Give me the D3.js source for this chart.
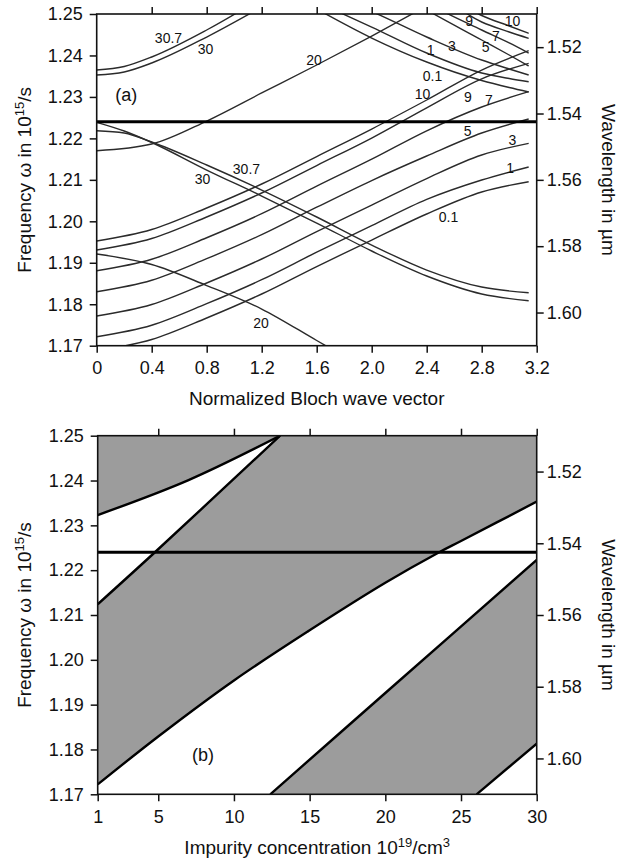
<!DOCTYPE html>
<html>
<head>
<meta charset="utf-8">
<script src="https://cdn.jsdelivr.net/npm/d3@7"></script>
<style>
  body { margin: 0; background: #fff; }
  svg text { font-family: "Liberation Sans", Arial, Helvetica, sans-serif; fill: #111; }
</style>
</head>
<body>
<svg id="chart" width="630" height="858"></svg>
<script>
// ---------- Panel (a): band structure, frequency vs normalized Bloch wave vector ----------
const kTicks = [0, 0.4, 0.8, 1.2, 1.6, 2.0, 2.4, 2.8, 3.2];
const kTickLabels = ["0", "0.4", "0.8", "1.2", "1.6", "2.0", "2.4", "2.8", "3.2"];
const freqTicks = [1.17, 1.18, 1.19, 1.20, 1.21, 1.22, 1.23, 1.24, 1.25];
const waveTicks = [1.52, 1.54, 1.56, 1.58, 1.60];
const targetFreq = 1.224;   // operating frequency (1.54 µm)

// lower bands (rising with k), one per impurity concentration
const kBand = [0, 0.4, 0.8, 1.2, 1.6, 2.0, 2.4, 2.8, 3.1416];
const rise01 = [1.16872, 1.17149, 1.17668, 1.18247, 1.18910, 1.19549, 1.20176, 1.20707, 1.20955];
const rise1  = [1.17217, 1.17494, 1.18013, 1.18591, 1.19255, 1.19894, 1.20528, 1.20996, 1.21310];
const rise3  = [1.17716, 1.17993, 1.18512, 1.19091, 1.19754, 1.20393, 1.21032, 1.21599, 1.21881];
const rise5  = [1.18302, 1.18579, 1.19098, 1.19677, 1.20340, 1.20984, 1.21575, 1.22130, 1.22467];
const rise7  = [1.18809, 1.19086, 1.19604, 1.20183, 1.20847, 1.21498, 1.22183, 1.22757, 1.23126];
const rise9  = [1.19308, 1.19585, 1.20104, 1.20683, 1.21346, 1.22009, 1.22738, 1.23437, 1.23811];
const rise10 = [1.19525, 1.19802, 1.20321, 1.20900, 1.21563, 1.22226, 1.22926, 1.23649, 1.24115];

// upper bands (falling towards the zone edge)
const kFallA = [1.6, 2.0, 2.4, 2.8, 3.0, 3.1416];
const fall01 = [1.25121, 1.24421, 1.23842, 1.23396, 1.23227, 1.23119];
const fall1  = [1.25289, 1.24686, 1.24059, 1.23577, 1.23444, 1.23367];
const fall3  = [1.25579, 1.25060, 1.24445, 1.23890, 1.23673, 1.23529];
const kFallB = [2.0, 2.4, 2.8, 3.0, 3.1416];
const fall5  = [1.25868, 1.25096, 1.24373, 1.24011, 1.23746];
const fall7  = [1.26061, 1.25265, 1.24614, 1.24301, 1.24059];
const fall9  = [1.26500, 1.25675, 1.24807, 1.24566, 1.24414];
const fall10 = [1.26600, 1.25800, 1.24964, 1.24711, 1.24534];

// bands for the high concentrations
const k20Hi = [0, 0.4, 0.8, 1.2, 1.6, 2.0, 2.4];
const rise20 = [1.21703, 1.21864, 1.22419, 1.23095, 1.23770, 1.24469, 1.25193];
const k20Lo = [0, 0.4, 0.8, 1.2, 1.6, 2.0];
const fall20 = [1.19211, 1.18958, 1.18451, 1.17885, 1.17125, 1.16365];
const k30Hi = [0, 0.2, 0.4, 0.8, 1.2];
const rise30  = [1.23529, 1.23601, 1.23818, 1.24445, 1.25169];
const rise307 = [1.23649, 1.23734, 1.23963, 1.24614, 1.25386];
const k30Lo = [0, 0.2, 0.4, 0.8, 1.2, 1.6, 2.0, 2.4, 2.8, 3.1416];
const fall30  = [1.22388, 1.22178, 1.21901, 1.21237, 1.20610, 1.19959, 1.19284, 1.18681, 1.18247, 1.18085];
const fall307 = [1.22185, 1.22130, 1.21913, 1.21358, 1.20755, 1.20104, 1.19428, 1.18825, 1.18415, 1.18278];

// concentration labels attached to the bands (k, frequency)
const bandLabels = [
  ["30.7", 0.522, 1.24433], ["30", 0.791, 1.24156], ["20", 1.580, 1.23890],
  ["30", 0.769, 1.21032], ["30.7", 1.089, 1.21261], ["20", 1.195, 1.17559],
  ["0.1", 2.559, 1.20104], ["1", 3.006, 1.21298], ["3", 3.024, 1.21961],
  ["5", 2.697, 1.22178], ["7", 2.853, 1.22938], ["9", 2.700, 1.22998], ["10", 2.369, 1.23070],
  ["0.1", 2.442, 1.23505], ["1", 2.428, 1.24132], ["3", 2.584, 1.24228],
  ["5", 2.828, 1.24211], ["7", 2.904, 1.24469], ["9", 2.708, 1.24831], ["10", 3.024, 1.24831]
];

// ---------- Panel (b): band gaps vs impurity concentration ----------
const concTicks = [1, 5, 10, 15, 20, 25, 30];
const edge1 = { c: [1, 7, 13.05], w: [1.2323, 1.2401, 1.2500] };
const edge2 = { c: [1, 4.78, 13.05], w: [1.2124, 1.2240, 1.2500] };
const edge3 = { c: [1, 5, 10, 15, 20, 23.5, 25, 30],
                w: [1.1722, 1.1829, 1.1954, 1.2066, 1.2172, 1.2239, 1.2265, 1.2353] };
const edge4 = { c: [12.4, 20, 30], w: [1.1700, 1.1926, 1.2223] };
const edge5 = { c: [26.03, 30], w: [1.1700, 1.1813] };

// ---------- drawing ----------
const svg = d3.select("#chart");
const FONT_TICK = 18, FONT_TITLE = 19;

const xA = d3.scaleLinear().domain([0, 3.2]).range([96.7, 536.7]);
const yA = d3.scaleLinear().domain([1.17, 1.25]).range([345.7, 14]);
const lamA = d3.scaleLinear().domain([1.61, 1.51]).range([345.7, 14]);

const xB = d3.scaleLinear().domain([1, 30]).range([97.7, 536.7]);
const yB = d3.scaleLinear().domain([1.17, 1.25]).range([794.3, 435.7]);
const lamB = d3.scaleLinear().domain([1.61, 1.51]).range([794.3, 435.7]);

const zip = (xs, ys) => xs.map((x, i) => [x, ys[i]]);

function styleAxis(g, fontSize) {
  g.select(".domain").remove();
  g.selectAll(".tick line").attr("stroke", "#111").attr("stroke-width", 1.5);
  g.selectAll(".tick text").attr("font-size", fontSize).attr("fill", "#111")
    .attr("font-family", '"Liberation Sans", Arial, sans-serif');
}

function drawFrame(x, y, lam, xTicks, xFormat, clipId) {
  const [x0, x1] = x.range();
  const [yb, yt] = y.range();
  svg.append("g").attr("transform", `translate(${x0},0)`)
    .call(d3.axisLeft(y).tickValues(freqTicks).tickFormat(d3.format(".2f")).tickSize(7).tickPadding(7))
    .call(g => styleAxis(g, FONT_TICK));
  svg.append("g").attr("transform", `translate(0,${yb})`)
    .call(d3.axisBottom(x).tickValues(xTicks).tickFormat(xFormat).tickSize(7).tickPadding(9))
    .call(g => styleAxis(g, FONT_TICK));
  svg.append("g").attr("transform", `translate(0,${yt})`)
    .call(d3.axisTop(x).tickValues(xTicks.slice(1)).tickFormat("").tickSize(7))
    .call(g => styleAxis(g, FONT_TICK));
  svg.append("g").attr("transform", `translate(${x1},0)`)
    .call(d3.axisRight(lam).tickValues(waveTicks).tickFormat(d3.format(".2f")).tickSize(7).tickPadding(3))
    .call(g => styleAxis(g, FONT_TICK));
  svg.append("rect").attr("x", x0).attr("y", yt).attr("width", x1 - x0).attr("height", yb - yt)
    .attr("fill", "none").attr("stroke", "#111").attr("stroke-width", 1.6);
  svg.append("clipPath").attr("id", clipId).append("rect")
    .attr("x", x0).attr("y", yt).attr("width", x1 - x0).attr("height", yb - yt);
}

function yTitle(yMid, xPos) {
  const t = svg.append("text").attr("transform", `translate(${xPos},${yMid}) rotate(-90)`)
    .attr("text-anchor", "middle").attr("font-size", FONT_TITLE);
  t.append("tspan").text("Frequency \u03c9 in 10");
  t.append("tspan").attr("font-size", 13).attr("dy", -7).text("15");
  t.append("tspan").attr("dy", 7).text("/s");
}
function lamTitle(yMid, xPos) {
  svg.append("text").attr("transform", `translate(${xPos},${yMid}) rotate(90)`)
    .attr("text-anchor", "middle").attr("font-size", FONT_TITLE).text("Wavelength in \u00b5m");
}

// ----- panel (a) -----
const gA = svg.append("g").attr("clip-path", "url(#clipA)");
const lineA = d3.line().x(d => xA(d[0])).y(d => yA(d[1])).curve(d3.curveMonotoneX);
const bandsA = [
  zip(kBand, rise01), zip(kBand, rise1), zip(kBand, rise3), zip(kBand, rise5),
  zip(kBand, rise7), zip(kBand, rise9), zip(kBand, rise10),
  zip(kFallA, fall01), zip(kFallA, fall1), zip(kFallA, fall3),
  zip(kFallB, fall5), zip(kFallB, fall7), zip(kFallB, fall9), zip(kFallB, fall10),
  zip(k20Hi, rise20), zip(k20Lo, fall20),
  zip(k30Hi, rise30), zip(k30Hi, rise307),
  zip(k30Lo, fall30), zip(k30Lo, fall307)
];
gA.selectAll("path.band").data(bandsA).join("path").attr("class", "band")
  .attr("d", lineA).attr("fill", "none").attr("stroke", "#2b2b2b").attr("stroke-width", 1.4);
gA.append("line").attr("x1", xA(0)).attr("x2", xA(3.2)).attr("y1", yA(targetFreq)).attr("y2", yA(targetFreq))
  .attr("stroke", "#000").attr("stroke-width", 3);

drawFrame(xA, yA, lamA, kTicks, (d, i) => kTickLabels[i], "clipA");

svg.append("g").selectAll("text").data(bandLabels).join("text")
  .attr("x", d => xA(d[1])).attr("y", d => yA(d[2])).attr("dy", "0.36em")
  .attr("text-anchor", "middle").attr("font-size", 14).attr("fill", "#222").text(d => d[0]);
svg.append("text").attr("x", xA(0.215)).attr("y", yA(1.2290)).attr("text-anchor", "middle")
  .attr("font-size", 18).text("(a)");

yTitle((yA.range()[0] + yA.range()[1]) / 2, 31);
lamTitle((yA.range()[0] + yA.range()[1]) / 2, 602);
svg.append("text").attr("x", (xA.range()[0] + xA.range()[1]) / 2).attr("y", 405)
  .attr("text-anchor", "middle").attr("font-size", FONT_TITLE).text("Normalized Bloch wave vector");

// ----- panel (b) -----
const GRAY = "#9c9c9c";
const gB = svg.append("g").attr("clip-path", "url(#clipB)");
const lineB = d3.line().x(d => xB(d[0])).y(d => yB(d[1])).curve(d3.curveCatmullRom);
const pts = e => zip(e.c, e.w);
const rev = e => zip(e.c, e.w).reverse();
const P = (c, w) => `L${xB(c)},${yB(w)}`;

// gray regions: forbidden bands
gB.append("path").attr("fill", GRAY)
  .attr("d", lineB(pts(edge1)) + P(1, 1.25) + "Z");
gB.append("path").attr("fill", GRAY)
  .attr("d", lineB(pts(edge2)) + P(30, 1.25) + P(30, edge3.w[edge3.w.length - 1]) +
             lineB(rev(edge3)).replace(/^M/, "L") + "Z");
gB.append("path").attr("fill", GRAY)
  .attr("d", lineB(pts(edge4)) + P(30, edge5.w[1]) + lineB(rev(edge5)).replace(/^M/, "L") + "Z");

gB.selectAll("path.edge").data([edge1, edge2, edge3, edge4, edge5]).join("path").attr("class", "edge")
  .attr("d", e => lineB(pts(e))).attr("fill", "none").attr("stroke", "#000").attr("stroke-width", 2.4);
gB.append("line").attr("x1", xB(1)).attr("x2", xB(30)).attr("y1", yB(targetFreq)).attr("y2", yB(targetFreq))
  .attr("stroke", "#000").attr("stroke-width", 3);

drawFrame(xB, yB, lamB, concTicks, d3.format("d"), "clipB");

svg.append("text").attr("x", xB(7.95)).attr("y", yB(1.1775)).attr("text-anchor", "middle")
  .attr("font-size", 18).text("(b)");

yTitle((yB.range()[0] + yB.range()[1]) / 2, 31);
lamTitle((yB.range()[0] + yB.range()[1]) / 2, 602);
const tb = svg.append("text").attr("x", (xB.range()[0] + xB.range()[1]) / 2).attr("y", 854)
  .attr("text-anchor", "middle").attr("font-size", FONT_TITLE);
tb.append("tspan").text("Impurity concentration 10");
tb.append("tspan").attr("font-size", 13).attr("dy", -7).text("19");
tb.append("tspan").attr("dy", 7).text("/cm");
tb.append("tspan").attr("font-size", 13).attr("dy", -7).text("3");
</script>
</body>
</html>
